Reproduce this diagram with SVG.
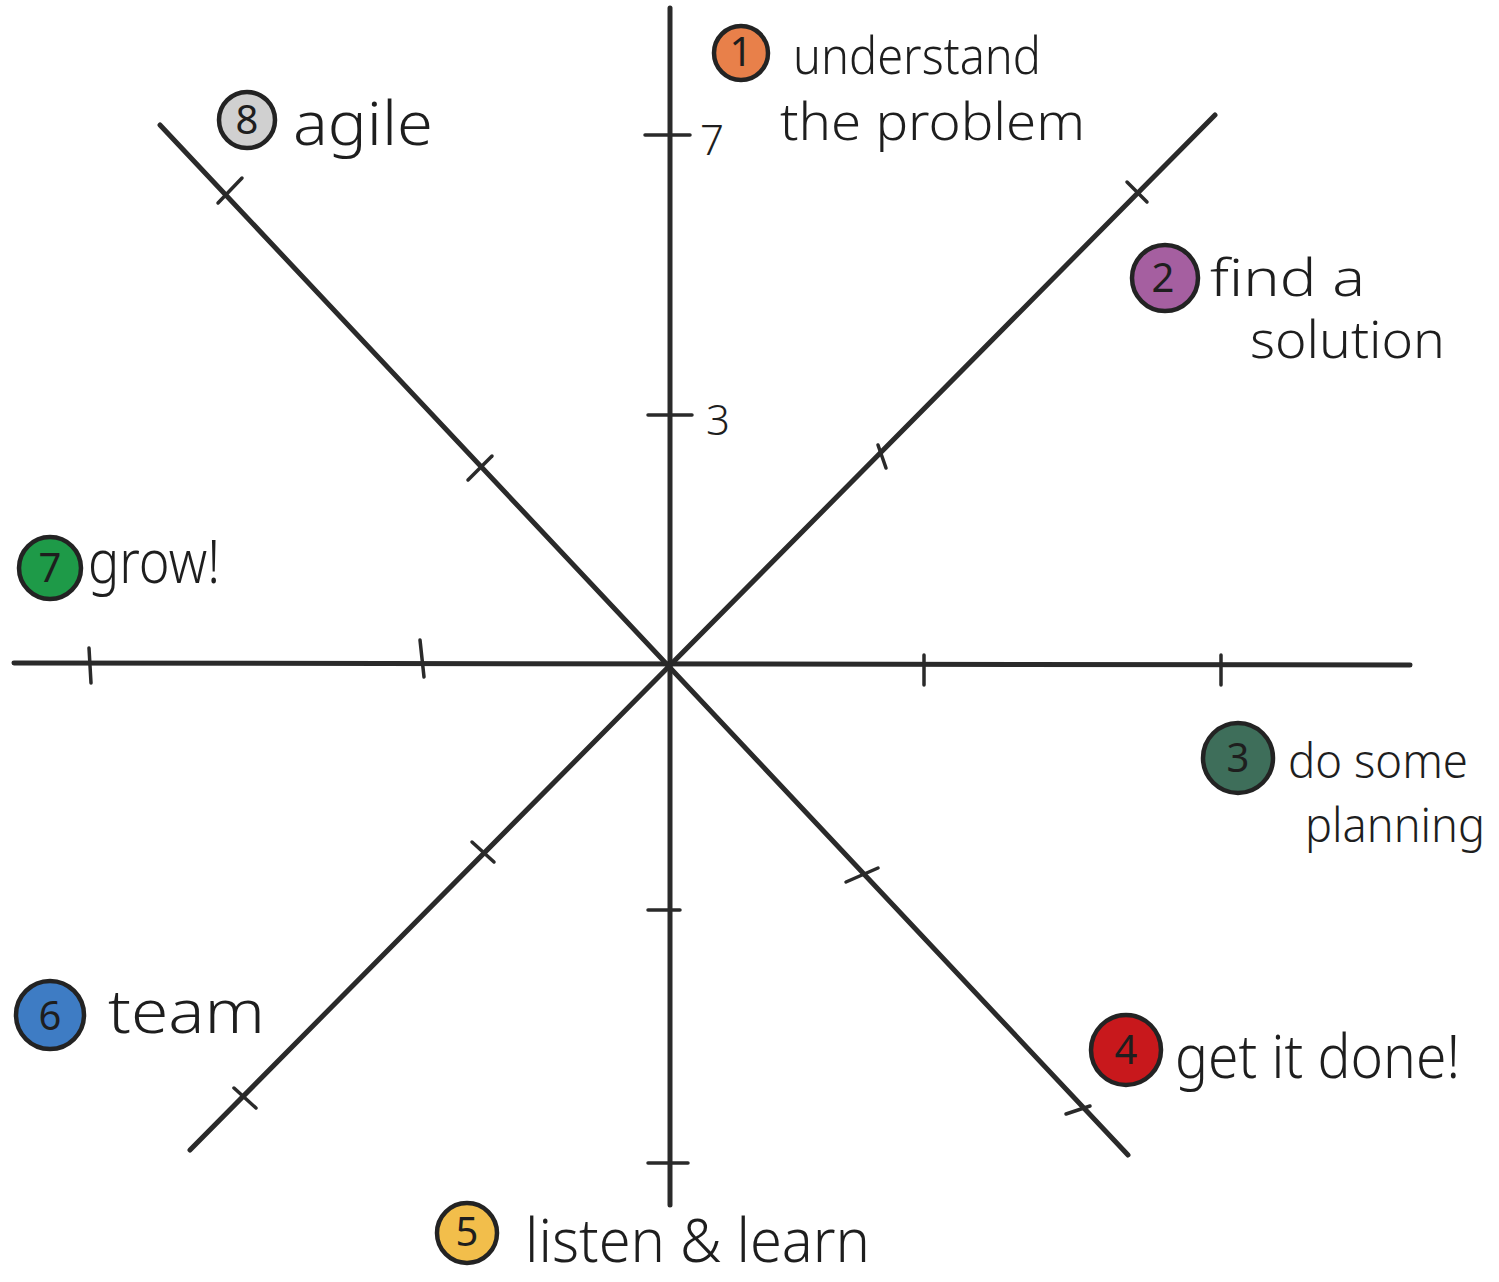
<svg xmlns="http://www.w3.org/2000/svg" width="1499" height="1282" viewBox="0 0 1499 1282">
<style>
.ax{stroke:#2a2a2a;stroke-width:5;stroke-linecap:round;fill:none}
.tk{stroke:#2a2a2a;stroke-width:3.5;stroke-linecap:round;fill:none}
.dot{stroke:#232323;stroke-width:4.5}
.num{font-family:"Noto Sans","Liberation Sans",sans-serif;font-size:40px;fill:#1e1e1e;text-anchor:middle}
.lbl{font-family:"Noto Sans","Liberation Sans",sans-serif;font-size:60px;font-weight:300;fill:#1e1e1e}
.lb2{font-family:"Noto Sans","Liberation Sans",sans-serif;font-size:52px;font-weight:300;fill:#1e1e1e}
.lb3{font-family:"Noto Sans","Liberation Sans",sans-serif;font-size:47px;font-weight:300;fill:#1e1e1e}
.sc{font-family:"Noto Sans","Liberation Sans",sans-serif;font-size:42px;font-weight:300;fill:#1e1e1e}
</style>
<rect width="1499" height="1282" fill="#ffffff"/>
<g id="connectors">
<line class="ax" x1="670" y1="8" x2="670" y2="1205"/>
<line class="ax" x1="14" y1="663" x2="1410" y2="665"/>
<line class="ax" x1="160" y1="125" x2="1128" y2="1155"/>
<line class="ax" x1="1215" y1="115" x2="190" y2="1150"/>
<line class="tk" x1="645" y1="135" x2="690" y2="135"/>
<line class="tk" x1="648" y1="415" x2="692" y2="415"/>
<line class="tk" x1="648" y1="910" x2="680" y2="910"/>
<line class="tk" x1="648" y1="1163" x2="688" y2="1163"/>
<line class="tk" x1="89" y1="648" x2="91" y2="683"/>
<line class="tk" x1="420" y1="640" x2="424" y2="677"/>
<line class="tk" x1="924" y1="655" x2="924" y2="685"/>
<line class="tk" x1="1221" y1="655" x2="1221" y2="685"/>
<line class="tk" x1="218" y1="203" x2="242" y2="178"/>
<line class="tk" x1="468" y1="480" x2="492" y2="456"/>
<line class="tk" x1="846" y1="882" x2="878" y2="868"/>
<line class="tk" x1="1066" y1="1114" x2="1090" y2="1106"/>
<line class="tk" x1="1127" y1="182" x2="1147" y2="202"/>
<line class="tk" x1="878" y1="445" x2="886" y2="468"/>
<line class="tk" x1="472" y1="842" x2="494" y2="862"/>
<line class="tk" x1="234" y1="1088" x2="256" y2="1108"/>
</g>
<g id="scale">
<text class="sc" x="700" y="155">7</text>
<text class="sc" x="706" y="435">3</text>
</g>
<g id="node1">
<circle class="dot" cx="741" cy="53" r="27" fill="#E8804A"/>
<text class="num" x="741" y="66" font-size="30">1</text>
<text class="lb2" x="793" y="74" textLength="248" lengthAdjust="spacingAndGlyphs">understand</text>
<text class="lb2" x="780" y="140" textLength="305" lengthAdjust="spacingAndGlyphs">the problem</text>
</g>
<g id="node2">
<circle class="dot" cx="1165" cy="278" r="33" fill="#A55FA0"/>
<text class="num" x="1163" y="292">2</text>
<text class="lb2" x="1210" y="296" textLength="155" lengthAdjust="spacingAndGlyphs">find a</text>
<text class="lb2" x="1250" y="358" textLength="195" lengthAdjust="spacingAndGlyphs">solution</text>
</g>
<g id="node3">
<circle class="dot" cx="1238" cy="758" r="35" fill="#3E6E5A"/>
<text class="num" x="1238" y="772">3</text>
<text class="lb3" x="1288" y="778" textLength="180" lengthAdjust="spacingAndGlyphs">do some</text>
<text class="lb3" x="1305" y="842" textLength="180" lengthAdjust="spacingAndGlyphs">planning</text>
</g>
<g id="node4">
<circle class="dot" cx="1126" cy="1050" r="35" fill="#C8181C"/>
<text class="num" x="1126" y="1064">4</text>
<text class="lbl" x="1175" y="1078" textLength="285" lengthAdjust="spacingAndGlyphs">get it done!</text>
</g>
<g id="node5">
<circle class="dot" cx="467" cy="1233" r="30" fill="#F2BE4B"/>
<text class="num" x="467" y="1246" font-size="36">5</text>
<text class="lbl" x="525" y="1262" textLength="345" lengthAdjust="spacingAndGlyphs">listen &amp; learn</text>
</g>
<g id="node6">
<circle class="dot" cx="50" cy="1015" r="34" fill="#3E7CC4"/>
<text class="num" x="50" y="1030">6</text>
<text class="lbl" x="108" y="1033" textLength="157" lengthAdjust="spacingAndGlyphs">team</text>
</g>
<g id="node7">
<circle class="dot" cx="50" cy="568" r="31" fill="#1E9A48"/>
<text class="num" x="50" y="582">7</text>
<text class="lbl" x="88" y="583" textLength="132" lengthAdjust="spacingAndGlyphs">grow!</text>
</g>
<g id="node8">
<circle class="dot" cx="247" cy="120" r="28" fill="#D0D0D0"/>
<text class="num" x="247" y="134">8</text>
<text class="lbl" x="293" y="145" textLength="140" lengthAdjust="spacingAndGlyphs">agile</text>
</g>
</svg>
